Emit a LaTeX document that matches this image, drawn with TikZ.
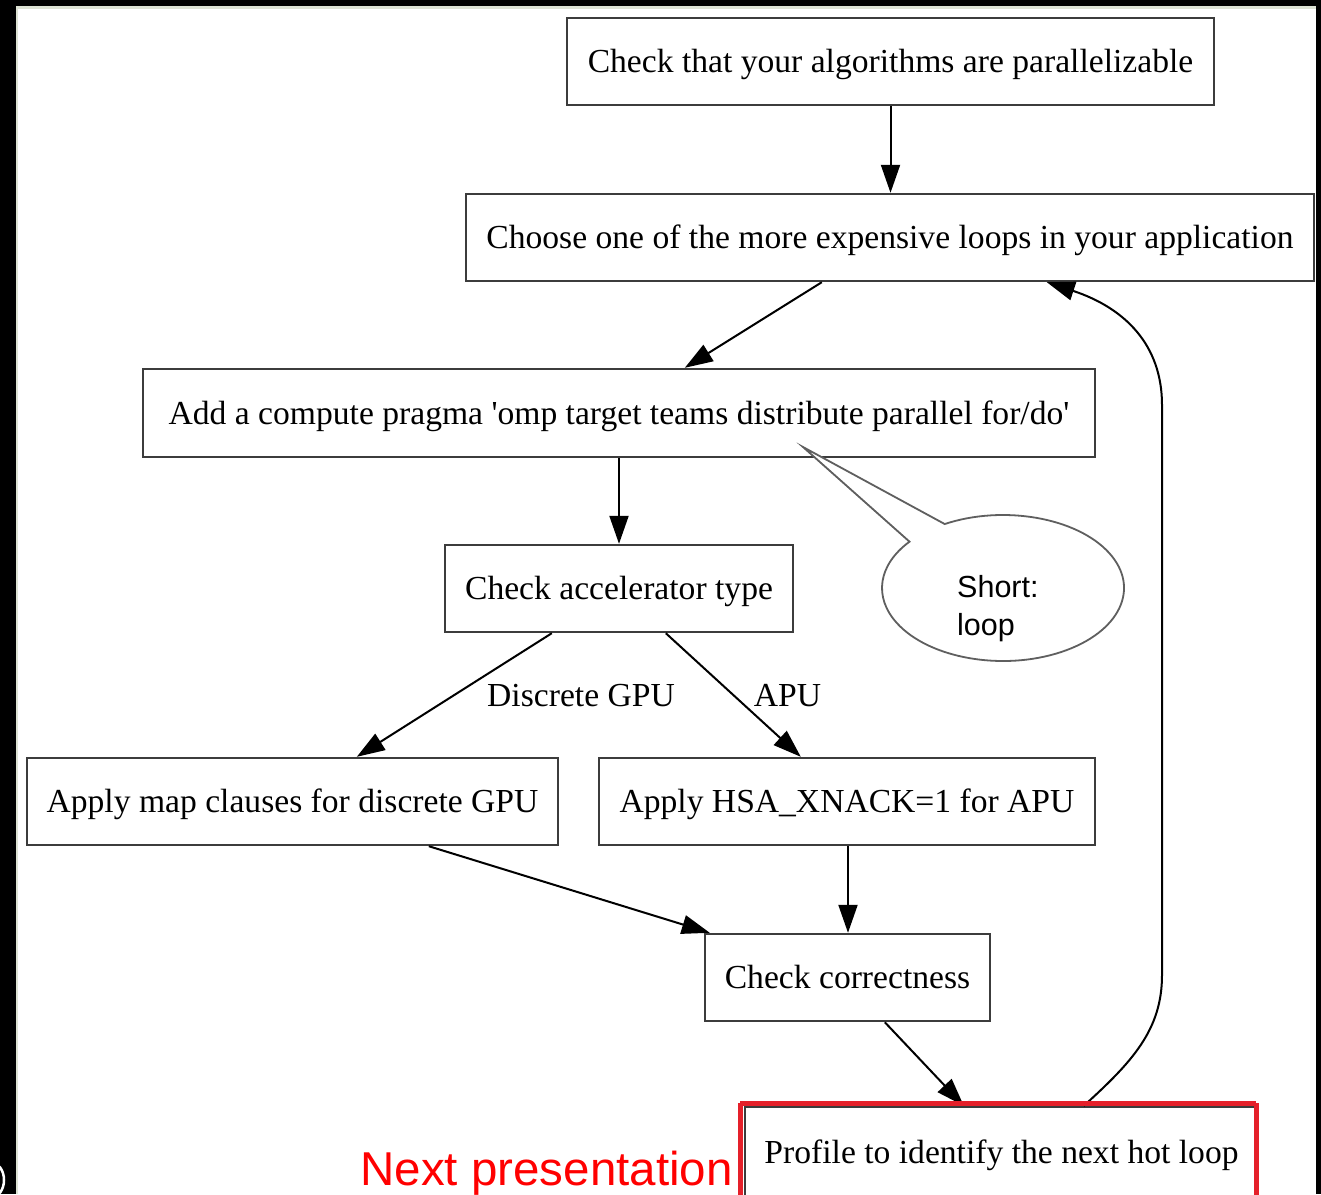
\documentclass[tikz,border=0pt]{standalone}
\usepackage{fontspec}
\setmainfont{Liberation Serif}
\newfontfamily\arialfont{Liberation Sans}
\usetikzlibrary{arrows.meta,calc}

\definecolor{boxline}{HTML}{3C3C3C}
\definecolor{frameline}{HTML}{DDE2D4}
\definecolor{calloutline}{HTML}{5F5F5F}
\definecolor{markred}{HTML}{E5202A}

\tikzset{
  stepbox/.style={draw=boxline, line width=2.4pt, fill=white, inner sep=0pt,
    minimum height=87pt, text height=22pt, text depth=0pt,
    font=\fontsize{33.6}{38}\selectfont},
  flow/.style={draw=black, line width=2pt, -{Triangle[length=28pt,width=19pt]}},
  edgelabel/.style={font=\fontsize{33.6}{38}\selectfont, inner sep=0pt, anchor=base},
}

\begin{document}
\begin{tikzpicture}[x=1pt, y=-1pt]
\useasboundingbox (0,0) rectangle (1321,1194);

% slide frame
\fill[black] (0,0) rectangle (1321,1194);
\fill[frameline] (16,6) rectangle (1316,1194);
\fill[white] (18,9) rectangle (1316,1194);
\draw[white, line width=2.5pt] (-8,1180) ellipse[x radius=12, y radius=17];

% process steps
\node[stepbox, minimum width=647pt] (b1) at (890.5,61.5) {Check that your algorithms are parallelizable};
\node[stepbox, minimum width=848pt] (b2) at (890,237.5) {Choose one of the more expensive loops in your application};
\node[stepbox, minimum width=952pt, minimum height=88pt] (b3) at (619,413) {Add a compute pragma \textquotesingle omp target teams distribute parallel for/do\textquotesingle};
\node[stepbox, minimum width=348pt] (b4) at (619,588.5) {Check accelerator type};
\node[stepbox, minimum width=531pt] (b5) at (292.5,801.5) {Apply map clauses for discrete GPU};
\node[stepbox, minimum width=496pt] (b6) at (847,801.5) {Apply HSA\_XNACK=1 for APU};
\node[stepbox, minimum width=285pt] (b7) at (847.5,977.5) {Check correctness};
\node[stepbox, minimum width=513pt, minimum height=100pt, text depth=10pt] (b8) at (1001.5,1157) {Profile to identify the next hot loop};

% connectors
\draw[flow] (b1.south) -- (b1.south |- b2.north);
\draw[flow] ($(b2.south west)+(357,0)$) -- ($(b3.north west)+(543,0)$);
\draw[flow] (b3.south) -- (b3.south |- b4.north);
\draw[flow] ($(b4.south west)+(108,0)$) -- ($(b5.north west)+(331,0)$);
\draw[flow] ($(b4.south west)+(222,0)$) -- ($(b6.north west)+(203,0)$);
\draw[flow] ($(b5.south west)+(403,0)$) -- ($(b7.north west)+(6,0)$);
\draw[flow] ($(b6.south)+(1,0)$) -- ($(b7.north)+(0.5,0)$);
\draw[flow] ($(b7.south west)+(181,0)$) -- ($(b8.north west)+(220,0)$);
\draw[flow] ($(b8.north west)+(340,0)$)
  .. controls (1132,1062) and (1162,1030) .. (1162,975)
  -- (1162,405)
  .. controls (1162,345) and (1125,308) .. ($(b2.south west)+(582,0)$);

% branch labels
\node[edgelabel] (lgpu) at (581,706) {Discrete GPU};
\node[edgelabel] (lapu) at (787.5,706) {APU};

% speech callout
\coordinate (tip) at (803,447);
\coordinate (cc) at (1003,588);
\draw[calloutline, line width=1.8pt, fill=white, line join=miter]
  (cc) ++(-118.8:121 and 73)
  arc[start angle=-118.8, end angle=219.4, x radius=121, y radius=73]
  -- (tip) -- cycle;
\node[font=\arialfont\fontsize{30.5}{38}\selectfont, align=left, anchor=west, inner sep=0pt] (note) at (957,609) {Short:\\loop};

% highlight of the last step
\draw[markred, line width=5pt] (740,1103) -- (1256,1103);
\draw[markred, line width=5pt] (740,1103) -- (740,1200);
\draw[markred, line width=5pt] (1256,1103) -- (1256,1200);
\node[font=\arialfont\fontsize{47.5}{50}\selectfont, text=red, anchor=base east, inner sep=0pt] (next) at (733,1185) {Next presentation};
\end{tikzpicture}
\end{document}
